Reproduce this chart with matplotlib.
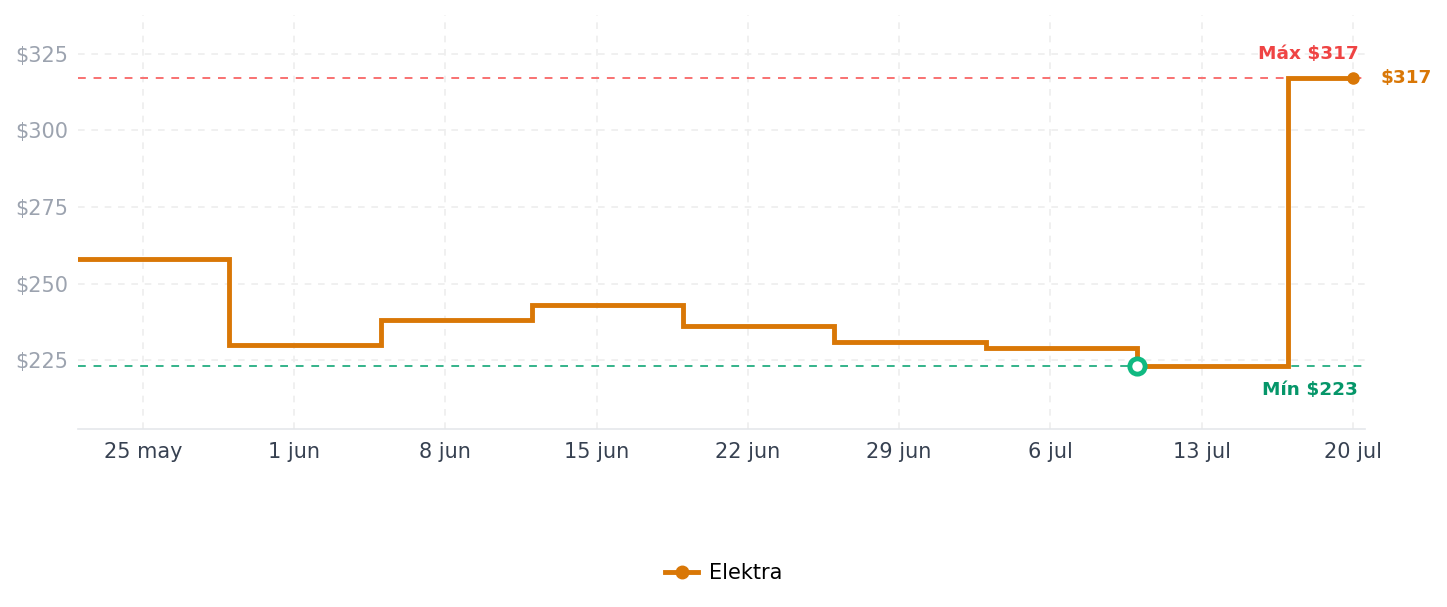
import numpy as np
import matplotlib.pyplot as plt
import matplotlib.dates as mdates
from datetime import datetime, timedelta

# Price change dates and prices (step, held until next change)
dates = ["2025-05-22", "2025-05-29", "2025-06-05", "2025-06-12", "2025-06-19",
         "2025-06-26", "2025-07-03", "2025-07-10", "2025-07-17", "2025-07-20"]
prices = [258, 230, 238, 243, 236, 231, 229, 223, 317, 317]
store = "Elektra"

tick_dates = ["2025-05-25", "2025-06-01", "2025-06-08", "2025-06-15", "2025-06-22",
              "2025-06-29", "2025-07-06", "2025-07-13", "2025-07-20"]
tick_labels = ["25 may", "1 jun", "8 jun", "15 jun", "22 jun",
               "29 jun", "6 jul", "13 jul", "20 jul"]
y_ticks = [225, 250, 275, 300, 325]

x = [datetime.strptime(d, "%Y-%m-%d") for d in dates]
xt = [datetime.strptime(d, "%Y-%m-%d") for d in tick_dates]
pmax, pmin = max(prices), min(prices)
imin = prices.index(pmin)

orange = "#d97706"
fig = plt.figure(figsize=(14.47, 6.07), dpi=100)
ax = fig.add_axes([0.0539, 0.2932, 0.8894, 0.682])

ax.axhline(pmax, color="#f87171", lw=1.4, ls=(0, (4, 4)), zorder=2)
ax.axhline(pmin, color="#34b38a", lw=1.4, ls=(0, (4, 4)), zorder=2)

ax.step(x, prices, where="post", color=orange, lw=3.5, zorder=3,
        solid_joinstyle="miter")
ax.plot([], [], color=orange, lw=3.5, marker="o", ms=9, label=store)
ax.plot(x[-1], prices[-1], "o", color=orange, ms=8, zorder=4)
ax.plot(x[imin], pmin, "o", ms=11, mfc="white", mec="#10b981", mew=3.5, zorder=5)

ax.text(x[-1] + timedelta(days=0.25), pmax + 4.9, f"Máx ${pmax}", color="#ef4444",
        fontsize=13.3, fontweight="bold", ha="right", va="bottom")
ax.text(x[-1] + timedelta(days=0.25), pmin - 4.7, f"Mín ${pmin}", color="#059669",
        fontsize=13.3, fontweight="bold", ha="right", va="top")
ax.text(x[-1] + timedelta(days=1.3), prices[-1], f"${prices[-1]}", color=orange,
        fontsize=13.3, fontweight="bold", ha="left", va="center")

ax.set_xlim(x[0], x[-1] + timedelta(days=0.56))
ax.set_ylim(202.5, 337.7)
ax.set_xticks(xt)
ax.set_xticklabels(tick_labels)
ax.set_yticks(y_ticks)
ax.set_yticklabels([f"${v}" for v in y_ticks])
ax.tick_params(axis="x", colors="#374151", labelsize=15, length=0, pad=9.5)
ax.tick_params(axis="y", colors="#9ca3af", labelsize=15, length=0, pad=7)
ax.grid(True, color="#eeeeee", ls=(0, (4, 4)), lw=1.2)
for s in ["top", "right", "left"]:
    ax.spines[s].set_visible(False)
ax.spines["bottom"].set_color("#e5e7eb")
ax.spines["bottom"].set_linewidth(1.2)

fig.legend(loc="lower center", bbox_to_anchor=(0.5, 0.008), frameon=False,
           fontsize=15, handlelength=1.6, handletextpad=0.5)
fig.savefig("out.png", dpi=100)
